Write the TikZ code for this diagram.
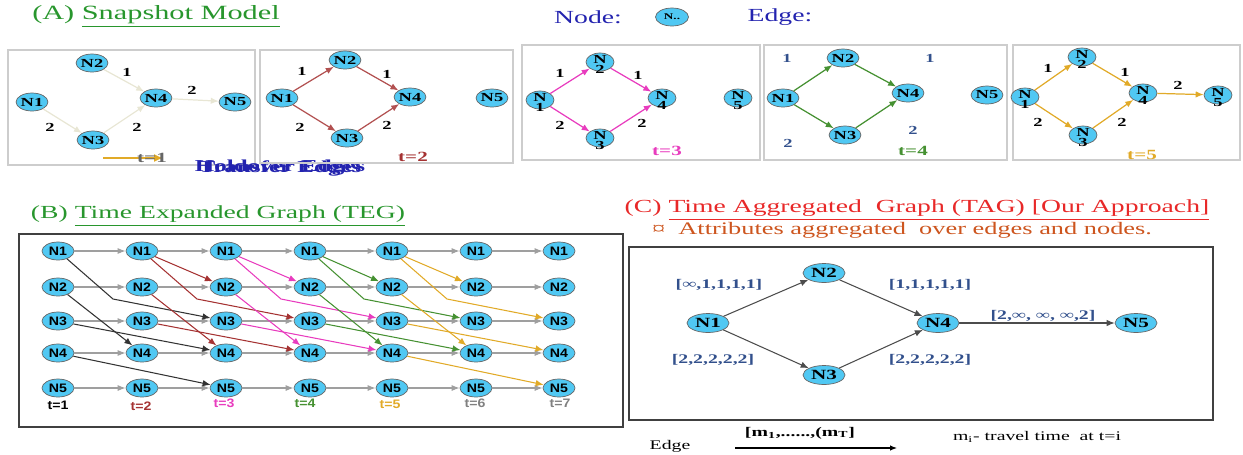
\documentclass[tikz,border=0pt]{standalone}
\usepackage{fontspec}
\setmainfont[FakeStretch=1.5]{Liberation Serif}
\newfontfamily\tegfont[FakeStretch=1.15]{Liberation Sans}
\usetikzlibrary{arrows.meta,shapes.geometric}
\definecolor{nodecyan}{RGB}{80,200,243}
\definecolor{titlegreen}{RGB}{40,150,45}
\definecolor{tagred}{RGB}{232,40,40}
\definecolor{attrbrown}{RGB}{205,85,30}
\definecolor{legblue}{RGB}{35,35,175}
\definecolor{lblblue}{RGB}{50,80,140}
\definecolor{tone}{RGB}{232,230,212}
\definecolor{ttwo}{RGB}{165,50,50}
\definecolor{tthree}{RGB}{232,60,190}
\definecolor{tfour}{RGB}{70,145,50}
\definecolor{tfive}{RGB}{225,170,40}
\definecolor{boxgray}{RGB}{205,205,205}

\begin{document}
\begin{tikzpicture}[x=0.02cm,y=-0.02cm,
 snap/.style={ellipse,draw=black!60,fill=nodecyan,minimum width=0.56cm,minimum height=0.36cm,inner sep=0pt,font=\bfseries\fontsize{7}{7}\selectfont},
 splitsnap/.style={snap,label={[num,inner sep=0pt,yshift=3.5pt]below:#1}},
 tegnode/.style={ellipse,draw=black!60,fill=nodecyan,minimum width=0.64cm,minimum height=0.36cm,inner sep=0pt,font=\tegfont\bfseries\fontsize{7}{7}\selectfont},
 tagnode/.style={ellipse,draw=black!60,fill=nodecyan,minimum width=0.84cm,minimum height=0.38cm,inner sep=0pt,font=\bfseries\fontsize{8}{8}\selectfont},
 panel/.style={draw=boxgray,line width=0.8pt},
 num/.style={font=\bfseries\fontsize{7}{7}\selectfont},
 tegtime/.style={font=\tegfont\bfseries\fontsize{7}{7}\selectfont},
 weight/.style={text=lblblue,font=\bfseries\fontsize{7.5}{7.5}\selectfont},
 holdedge/.style={draw=gray!75,line width=0.6pt,-{Latex[length=1.6mm,width=1.2mm]}},
 transedge/.style={line width=0.6pt,-{Latex[length=1.6mm,width=1.3mm]}},
 snapedge/.style={line width=0.7pt,-{Latex[length=1.6mm,width=1.3mm]}},
]
\useasboundingbox (0,0) rectangle (1243,454);

\node[text=titlegreen,font=\fontsize{11.5}{12}\selectfont] (titlea) at (156,16) {(A) \underline{Snapshot Model}};
\node[text=legblue,font=\fontsize{10.5}{11}\selectfont] (nodekey) at (588,17) {Node:};
\node[snap,minimum width=0.66cm,font=\bfseries\fontsize{5}{5}\selectfont] (nodeicon) at (672,17) {N..};
\node[text=legblue,font=\fontsize{10.5}{11}\selectfont] (edgekey) at (780,17) {Edge:};

\draw[panel] (8,50) rectangle (255,165);
\node[snap] (a1n1) at (32,102) {N1};
\node[snap] (a1n2) at (92,63) {N2};
\node[snap] (a1n3) at (93,140) {N3};
\node[snap] (a1n4) at (156,98) {N4};
\node[snap] (a1n5) at (235,102) {N5};
\draw[snapedge,tone] (a1n2) -- (a1n4);
\draw[snapedge,tone] (a1n4) -- (a1n5);
\draw[snapedge,tone] (a1n1) -- (a1n3);
\draw[snapedge,tone] (a1n3) -- (a1n4);
\node[num] (a1w1) at (127,72) {1};
\node[num] (a1w2) at (192,90) {2};
\node[num] (a1w3) at (50,127) {2};
\node[num] (a1w4) at (137,127) {2};
\coordinate (a1s) at (103,158);
\coordinate (a1e) at (163,158);
\draw[tfive,line width=0.8pt,-{Latex[length=1.8mm,width=1.6mm]}] (a1s) -- (a1e);
\node[num,text=black!60,font=\bfseries\fontsize{8}{8}\selectfont] (a1t) at (152,158) {t=1};
\node[text=legblue,font=\bfseries\fontsize{9.5}{10}\selectfont] (holdkey) at (280,168) {Holdover Edges};
\node[text=legblue,font=\bfseries\fontsize{9.5}{10}\selectfont] (transkey) at (280,168) {Transfer Edges};

\draw[panel] (260,50) rectangle (513,163);
\node[snap] (a2n1) at (282,98) {N1};
\node[snap] (a2n2) at (345,60) {N2};
\node[snap] (a2n3) at (347,138) {N3};
\node[snap] (a2n4) at (410,97) {N4};
\node[snap] (a2n5) at (492,98) {N5};
\draw[snapedge,ttwo!85] (a2n1) -- (a2n2);
\draw[snapedge,ttwo!85] (a2n2) -- (a2n4);
\draw[snapedge,ttwo!85] (a2n1) -- (a2n3);
\draw[snapedge,ttwo!85] (a2n3) -- (a2n4);
\node[num] (a2w1) at (302,71) {1};
\node[num] (a2w2) at (387,74) {1};
\node[num] (a2w3) at (300,127) {2};
\node[num] (a2w4) at (387,125) {2};
\node[num,text=ttwo,font=\bfseries\fontsize{8}{8}\selectfont] (a2t) at (413,157) {t=2};

\draw[panel] (522,45) rectangle (760,160);
\node[splitsnap=1] (a3n1) at (540,100) {\raisebox{2.5pt}{N}};
\node[splitsnap=2] (a3n2) at (600,62) {\raisebox{2.5pt}{N}};
\node[splitsnap=3] (a3n3) at (600,138) {\raisebox{2.5pt}{N}};
\node[splitsnap=4] (a3n4) at (662,98) {\raisebox{2.5pt}{N}};
\node[splitsnap=5] (a3n5) at (738,98) {\raisebox{2.5pt}{N}};
\draw[snapedge,tthree] (a3n1) -- (a3n2);
\draw[snapedge,tthree] (a3n2) -- (a3n4);
\draw[snapedge,tthree] (a3n1) -- (a3n3);
\draw[snapedge,tthree] (a3n3) -- (a3n4);
\node[num] (a3w1) at (560,73) {1};
\node[num] (a3w2) at (638,75) {1};
\node[num] (a3w3) at (560,125) {2};
\node[num] (a3w4) at (642,123) {2};
\node[num,text=tthree,font=\bfseries\fontsize{8}{8}\selectfont] (a3t) at (667,151) {t=3};

\draw[panel] (764,45) rectangle (1007,160);
\node[snap] (a4n1) at (783,98) {N1};
\node[snap] (a4n2) at (843,58) {N2};
\node[snap] (a4n3) at (845,135) {N3};
\node[snap] (a4n4) at (908,93) {N4};
\node[snap] (a4n5) at (987,95) {N5};
\draw[snapedge,tfour] (a4n1) -- (a4n2);
\draw[snapedge,tfour] (a4n2) -- (a4n4);
\draw[snapedge,tfour] (a4n1) -- (a4n3);
\draw[snapedge,tfour] (a4n3) -- (a4n4);
\node[num,text=lblblue] (a4w1) at (787,58) {1};
\node[num,text=lblblue] (a4w2) at (930,58) {1};
\node[num,text=lblblue] (a4w3) at (788,143) {2};
\node[num,text=lblblue] (a4w4) at (913,130) {2};
\node[num,text=tfour,font=\bfseries\fontsize{8}{8}\selectfont] (a4t) at (913,151) {t=4};

\draw[panel] (1013,45) rectangle (1240,160);
\node[splitsnap=1] (a5n1) at (1025,97) {\raisebox{2.5pt}{N}};
\node[splitsnap=2] (a5n2) at (1082,57) {\raisebox{2.5pt}{N}};
\node[splitsnap=3] (a5n3) at (1083,135) {\raisebox{2.5pt}{N}};
\node[splitsnap=4] (a5n4) at (1143,93) {\raisebox{2.5pt}{N}};
\node[splitsnap=5] (a5n5) at (1218,95) {\raisebox{2.5pt}{N}};
\draw[snapedge,tfive] (a5n1) -- (a5n2);
\draw[snapedge,tfive] (a5n2) -- (a5n4);
\draw[snapedge,tfive] (a5n1) -- (a5n3);
\draw[snapedge,tfive] (a5n3) -- (a5n4);
\draw[snapedge,tfive] (a5n4) -- (a5n5);
\node[num] (a5w1) at (1048,68) {1};
\node[num] (a5w2) at (1125,72) {1};
\node[num] (a5w3) at (1178,85) {2};
\node[num] (a5w4) at (1038,122) {2};
\node[num] (a5w5) at (1122,122) {2};
\node[num,text=tfive,font=\bfseries\fontsize{8}{8}\selectfont] (a5t) at (1142,155) {t=5};

\node[text=titlegreen,font=\fontsize{10.5}{11}\selectfont] (titleb) at (218,216) {(B) \underline{Time Expanded Graph (TEG)}};
\draw[black!75,line width=0.8pt] (19,234) rectangle (623,427);
\foreach \c/\x in {1/58,2/142,3/226,4/310,5/392,6/476,7/559}
 \foreach \r/\y in {1/251,2/287,3/321,4/353,5/388}
  \node[tegnode] (b\r\c) at (\x,\y) {N\r};
\foreach \r in {1,...,5}
 \foreach \c [count=\d from 2] in {1,...,6}
  \draw[holdedge] (b\r\c) -- (b\r\d);
\coordinate (k1) at (113,299);
\coordinate (k2) at (197,299);
\coordinate (k3) at (281,299);
\coordinate (k4) at (364,299);
\coordinate (k5) at (447,299);
\draw[transedge,black!80] (b11) -- (k1) -- (b33);
\draw[transedge,black!80] (b21) -- (b42);
\draw[transedge,black!80] (b31) -- (b43);
\draw[transedge,black!80] (b41) -- (b53);
\draw[transedge,ttwo] (b12) -- (b23);
\draw[transedge,ttwo] (b12) -- (k2) -- (b34);
\draw[transedge,ttwo] (b22) -- (b43);
\draw[transedge,ttwo] (b32) -- (b44);
\draw[transedge,tthree] (b13) -- (b24);
\draw[transedge,tthree] (b13) -- (k3) -- (b35);
\draw[transedge,tthree] (b23) -- (b44);
\draw[transedge,tthree] (b33) -- (b45);
\draw[transedge,tfour] (b14) -- (b25);
\draw[transedge,tfour] (b14) -- (k4) -- (b36);
\draw[transedge,tfour] (b24) -- (b45);
\draw[transedge,tfour] (b34) -- (b46);
\draw[transedge,tfive] (b15) -- (b26);
\draw[transedge,tfive] (b15) -- (k5) -- (b37);
\draw[transedge,tfive] (b25) -- (b46);
\draw[transedge,tfive] (b35) -- (b47);
\draw[transedge,tfive] (b45) -- (b57);
\node[tegtime,text=black] (bt1) at (58,405) {t=1};
\node[tegtime,text=ttwo] (bt2) at (141,406) {t=2};
\node[tegtime,text=tthree] (bt3) at (224,403) {t=3};
\node[tegtime,text=tfour] (bt4) at (305,403) {t=4};
\node[tegtime,text=tfive] (bt5) at (390,404) {t=5};
\node[tegtime,text=gray] (bt6) at (475,403) {t=6};
\node[tegtime,text=gray] (bt7) at (560,403) {t=7};

\node[text=tagred,font=\fontsize{10.5}{11}\selectfont] (titlec) at (917,210) {(C) \underline{Time Aggregated\ \ Graph (TAG) [Our Approach]}};
\node[text=attrbrown,font=\fontsize{10}{11}\selectfont] (attrline) at (902,230) {¤\ \ Attributes aggregated\ \ over edges and nodes.};
\draw[black!75,line width=0.8pt] (629,247) rectangle (1213,420);
\node[tagnode] (c1) at (708,323) {N1};
\node[tagnode] (c2) at (824,273) {N2};
\node[tagnode] (c3) at (824,375) {N3};
\node[tagnode] (c4) at (938,323) {N4};
\node[tagnode] (c5) at (1136,323) {N5};
\draw[transedge,black!70] (c1) -- (c2);
\draw[transedge,black!70] (c2) -- (c4);
\draw[transedge,black!70] (c1) -- (c3);
\draw[transedge,black!70] (c3) -- (c4);
\draw[transedge,black!70] (c4) -- (c5);
\node[weight] (cw1) at (719,285) {[∞,1,1,1,1]};
\node[weight] (cw2) at (930,285) {[1,1,1,1,1]};
\node[weight] (cw3) at (1043,316) {[2,∞, ∞, ∞,2]};
\node[weight] (cw4) at (713,360) {[2,2,2,2,2]};
\node[weight] (cw5) at (930,360) {[2,2,2,2,2]};

\node[font=\fontsize{7.5}{8}\selectfont] (edgeword) at (670,446) {Edge};
\coordinate (es) at (735,448);
\coordinate (ee) at (897,448);
\draw[black,line width=0.6pt,-{Latex[length=1.4mm,width=1.1mm]}] (es) -- (ee);
\node[font=\bfseries\fontsize{7.5}{8}\selectfont] (edgeseq) at (800,433) {[m\textsubscript{1},......,(m\textsubscript{T}]};
\node[font=\fontsize{7.5}{8}\selectfont] (edgenote) at (1037,437) {m\textsubscript{i}- travel time\ \ at t=i};
\end{tikzpicture}
\end{document}
